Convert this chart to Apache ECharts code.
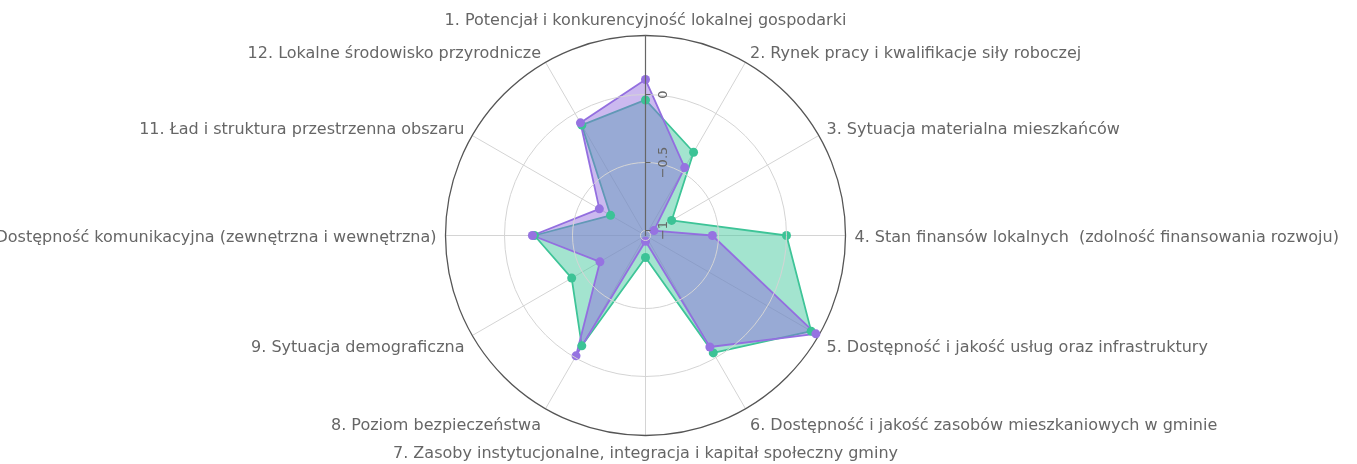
<!DOCTYPE html>
<html>
<head>
<meta charset="utf-8">
<script src="https://cdn.jsdelivr.net/npm/echarts@6/dist/echarts.min.js"></script>
<style>
html,body{margin:0;padding:0;background:#fff;}
#chart{width:1357px;height:464px;}
</style>
</head>
<body>
<div id="chart"></div>
<script>
// Categories (clockwise from top)
var categories = [
  "1. Potencjał i konkurencyjność lokalnej gospodarki",
  "2. Rynek pracy i kwalifikacje siły roboczej",
  "3. Sytuacja materialna mieszkańców",
  "4. Stan finansów lokalnych  (zdolność finansowania rozwoju)",
  "5. Dostępność i jakość usług oraz infrastruktury",
  "6. Dostępność i jakość zasobów mieszkaniowych w gminie",
  "7. Zasoby instytucjonalne, integracja i kapitał społeczny gminy",
  "8. Poziom bezpieczeństwa",
  "9. Sytuacja demograficzna",
  "10. Dostępność komunikacyjna (zewnętrzna i wewnętrzna)",
  "11. Ład i struktura przestrzenna obszaru",
  "12. Lokalne środowisko przyrodnicze"
];
// Series values
var seriesGreen = [-0.04, -0.33, -0.815, 0.0, 0.37, -0.04, -0.875, -0.10, -0.41, -0.22, -0.74, -0.10];
var seriesPurple = [0.11, -0.46, -0.965, -0.545, 0.41, -0.09, -0.995, -0.015, -0.65, -0.205, -0.645, -0.08];
// Radial tick values
var radialTicks = [-1, -0.5, 0];
var radialMin = -1.037;
var radialMax = 0.434;

var labelFont = '"DejaVu Sans", sans-serif';
// label line heights / paddings (style only) to mimic the reference's label placement
var labelLineHeight = [11, 2, 3, 19, 15, 19, 19, 19, 15, 19, 3, 2];
var labelPadTop = [0, 0, 0, 4, 0, 0, 0, 0, 0, 4, 0, 0];
var rich = {};
labelLineHeight.forEach(function (lh, i) {
  rich['p' + i] = {
    lineHeight: lh, padding: [labelPadTop[i], 0, 0, 0],
    color: '#666', fontSize: 16, fontFamily: labelFont
  };
});

// radar runs counter-clockwise, so feed it indices in order 0, 11, 10, ..., 1
var order = categories.map(function (c, i) { return i === 0 ? 0 : categories.length - i; });
function reorder(arr) { return order.map(function (k) { return arr[k]; }); }

var center = [645.5, 235.5];
var R = 200;

var chart = echarts.init(document.getElementById('chart'), null, {renderer: 'canvas'});
chart.setOption({
  animation: false,
  polar: {center: center, radius: R},
  angleAxis: {
    type: 'value', min: 0, max: categories.length, interval: 1,
    startAngle: 90, clockwise: true,
    axisLine: {show: true, lineStyle: {color: '#555', width: 1.3}},
    axisTick: {show: false},
    splitLine: {show: true, lineStyle: {color: '#d4d4d4', width: 1}},
    axisLabel: {
      show: true, margin: 9, color: '#666', fontSize: 16, fontFamily: labelFont,
      rich: rich,
      formatter: function (v) { return v < categories.length ? '{p' + v + '|' + categories[v] + '}' : ''; }
    }
  },
  radiusAxis: {
    type: 'value', min: radialMin, max: radialMax, z: 10,
    axisLine: {show: true, lineStyle: {color: '#666', width: 1.2}},
    axisTick: {show: true, length: -5, customValues: radialTicks, lineStyle: {color: '#666'}},
    splitLine: {show: true, lineStyle: {color: '#d4d4d4', width: 1}},
    axisLabel: {
      show: true, rotate: 90, margin: -25, color: '#666', fontSize: 13, fontFamily: labelFont,
      customValues: radialTicks,
      formatter: function (v) { return String(v).replace('-', '\u2212'); }
    }
  },
  radar: {
    center: center, radius: R, startAngle: 90, shape: 'circle',
    indicator: reorder(categories).map(function (c) { return {name: c, min: radialMin, max: radialMax}; }),
    axisName: {show: false},
    axisLine: {show: false}, splitLine: {show: false}, splitArea: {show: false}, axisTick: {show: false}, axisLabel: {show: false}
  },
  series: [
    {
      type: 'radar', z: 3,
      symbol: 'circle', symbolSize: 9,
      data: [
        {
          name: 'A', value: reorder(seriesGreen),
          lineStyle: {color: 'rgb(60,195,150)', width: 1.8},
          itemStyle: {color: 'rgb(60,195,150)'},
          areaStyle: {color: 'rgba(72,201,160,0.5)', opacity: 1}
        },
        {
          name: 'B', value: reorder(seriesPurple),
          lineStyle: {color: 'rgb(150,115,225)', width: 1.8},
          itemStyle: {color: 'rgb(150,115,225)'},
          areaStyle: {color: 'rgba(140,100,220,0.45)', opacity: 1}
        }
      ]
    }
  ]
});
</script>
</body>
</html>
